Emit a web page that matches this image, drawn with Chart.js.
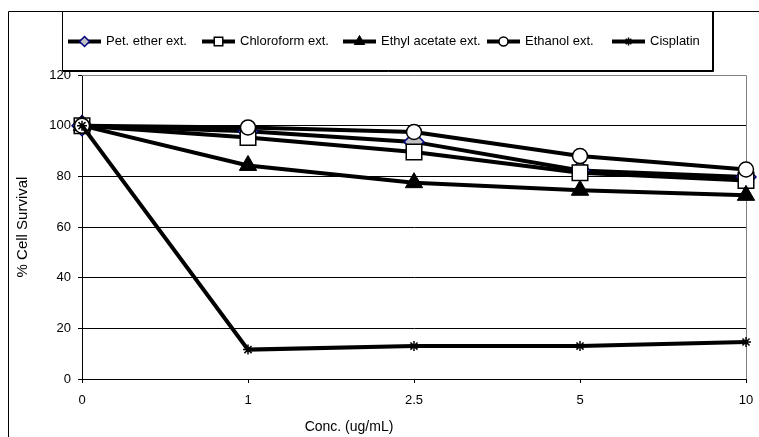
<!DOCTYPE html>
<html lang="en">
<head>
    <meta charset="UTF-8">
    <title>% Cell Survival vs Concentration</title>
    <script src="https://cdn.jsdelivr.net/npm/chart.js"></script>
    <style>
        body { margin: 0; background: #fff; }
        canvas { display: block; }
    </style>
</head>
<body>
    <canvas id="survivalChart" width="759" height="437"></canvas>

    <script>
        // Concentrations (ug/mL) on the x axis
        const concLabels = ['0', '1', '2.5', '5', '10'];

        // % cell survival for each extract
        const petEther = [100, 97.8, 93.6, 82.3, 79.7];
        const chloroform = [100, 95.3, 89.6, 81.4, 78.4];
        const ethylAcetate = [100, 84.3, 77.5, 74.5, 72.5];
        const ethanol = [100, 99.3, 97.5, 88.0, 82.7];
        const cisplatin = [100, 11.6, 13.0, 13.0, 14.6];

        const seriesNames = ['Pet. ether ext.', 'Chloroform ext.', 'Ethyl acetate ext.', 'Ethanol ext.', 'Cisplatin'];

        const yTicks = { min: 0, max: 120, step: 20 };

        const FONT = "'Liberation Sans', Arial, sans-serif";

        // Marker styles, Excel-like
        const markers = [
            { style: 'rectRot', radius: 10, fill: '#c0c0c0', stroke: '#000080', width: 1.5, legendRadius: 5 },
            { style: 'rect', radius: 11, fill: '#ffffff', stroke: '#000000', width: 1.5, legendRadius: 6 },
            { style: 'triangle', radius: 10, fill: '#000000', stroke: '#000000', width: 1, legendRadius: 6 },
            { style: 'circle', radius: 7.5, fill: '#ffffff', stroke: '#000000', width: 1.5, legendRadius: 4.5 },
            { style: 'star', radius: 5, fill: '#000000', stroke: '#000000', width: 1.5, legendRadius: 4 }
        ];

        const seriesData = [petEther, chloroform, ethylAcetate, ethanol, cisplatin];

        const datasets = seriesData.map((values, i) => ({
            label: seriesNames[i],
            data: values,
            borderColor: '#000000',
            borderWidth: 4,
            tension: 0,
            fill: false,
            clip: false,
            order: seriesData.length - i, // first series at the back, like Excel
            pointStyle: markers[i].style,
            pointRadius: markers[i].radius,
            pointHoverRadius: markers[i].radius,
            pointBackgroundColor: markers[i].fill,
            pointBorderColor: markers[i].stroke,
            pointBorderWidth: markers[i].width
        }));

        // Frame, legend box and the grey plot border
        const framePlugin = {
            id: 'frame',
            beforeDraw(chart) {
                const ctx = chart.ctx;
                ctx.save();
                ctx.fillStyle = '#ffffff';
                ctx.fillRect(0, 0, chart.width, chart.height);

                ctx.strokeStyle = '#000000';
                ctx.lineWidth = 1;
                ctx.beginPath();
                ctx.moveTo(8.5, chart.height);
                ctx.lineTo(8.5, 11.5);
                ctx.lineTo(chart.width, 11.5);
                ctx.stroke();

                // legend box with small shadow
                ctx.strokeRect(62.5, 11.5, 650, 59);
                ctx.beginPath();
                ctx.moveTo(63, 71.5);
                ctx.lineTo(713.5, 71.5);
                ctx.lineTo(713.5, 12);
                ctx.stroke();
                ctx.restore();
            },
            beforeDatasetsDraw(chart) {
                const { ctx, chartArea: a } = chart;
                ctx.save();
                ctx.strokeStyle = '#808080';
                ctx.lineWidth = 1;
                ctx.beginPath();
                ctx.moveTo(a.left, a.top + 0.5);
                ctx.lineTo(a.right + 0.5, a.top + 0.5);
                ctx.lineTo(a.right + 0.5, a.bottom);
                ctx.stroke();
                ctx.restore();
            },
            afterDraw(chart) {
                const ctx = chart.ctx;
                ctx.save();

                // x axis title, sits left of centre in the original
                ctx.fillStyle = '#000000';
                ctx.font = '14px ' + FONT;
                ctx.textAlign = 'center';
                ctx.textBaseline = 'middle';
                ctx.fillText('Conc. (ug/mL)', 349, 427);

                // legend entries: line + marker + text
                const starts = [68, 202, 343, 487, 612];
                const yMid = 41.5;
                ctx.font = '13px ' + FONT;
                ctx.textAlign = 'left';
                seriesNames.forEach((name, i) => {
                    const x0 = starts[i];
                    ctx.strokeStyle = '#000000';
                    ctx.lineWidth = 4;
                    ctx.beginPath();
                    ctx.moveTo(x0, yMid);
                    ctx.lineTo(x0 + 33, yMid);
                    ctx.stroke();

                    const m = markers[i];
                    ctx.fillStyle = m.fill;
                    ctx.strokeStyle = m.stroke;
                    ctx.lineWidth = m.width;
                    Chart.helpers.drawPoint(ctx, {
                        pointStyle: m.style,
                        radius: m.legendRadius,
                        rotation: 0,
                        borderWidth: m.width
                    }, x0 + 16.5, yMid);

                    ctx.fillStyle = '#000000';
                    ctx.fillText(name, x0 + 38, yMid);
                });
                ctx.restore();
            }
        };

        const ctx = document.getElementById('survivalChart').getContext('2d');
        new Chart(ctx, {
            type: 'line',
            data: {
                labels: concLabels,
                datasets: datasets
            },
            plugins: [framePlugin],
            options: {
                responsive: false,
                animation: false,
                devicePixelRatio: 1,
                layout: {
                    padding: { top: 75, right: 13, left: 0, bottom: 0 }
                },
                plugins: {
                    legend: { display: false },
                    tooltip: { enabled: false }
                },
                scales: {
                    x: {
                        afterFit: (scale) => {
                            scale.height = 58;
                            scale.paddingRight = 0;
                            scale.paddingLeft = 0;
                        },
                        grid: {
                            drawOnChartArea: false,
                            drawTicks: true,
                            tickLength: 4,
                            color: '#000000'
                        },
                        border: { color: '#000000', width: 1 },
                        ticks: {
                            color: '#000000',
                            padding: 10,
                            maxRotation: 0,
                            font: { family: FONT, size: 13 }
                        }
                    },
                    y: {
                        min: yTicks.min,
                        max: yTicks.max,
                        afterFit: (scale) => { scale.width = 82; },
                        grid: {
                            color: (c) => c.tick && c.tick.value === yTicks.max ? 'rgba(0,0,0,0)' : '#000000',
                            tickColor: '#000000',
                            tickLength: 4
                        },
                        border: { color: '#000000', width: 1 },
                        ticks: {
                            stepSize: yTicks.step,
                            color: '#000000',
                            padding: 7,
                            font: { family: FONT, size: 13 }
                        },
                        title: {
                            display: true,
                            text: '% Cell Survival',
                            color: '#000000',
                            padding: { top: 14, bottom: 0 },
                            font: { family: FONT, size: 15 }
                        }
                    }
                }
            }
        });
    </script>
</body>
</html>
